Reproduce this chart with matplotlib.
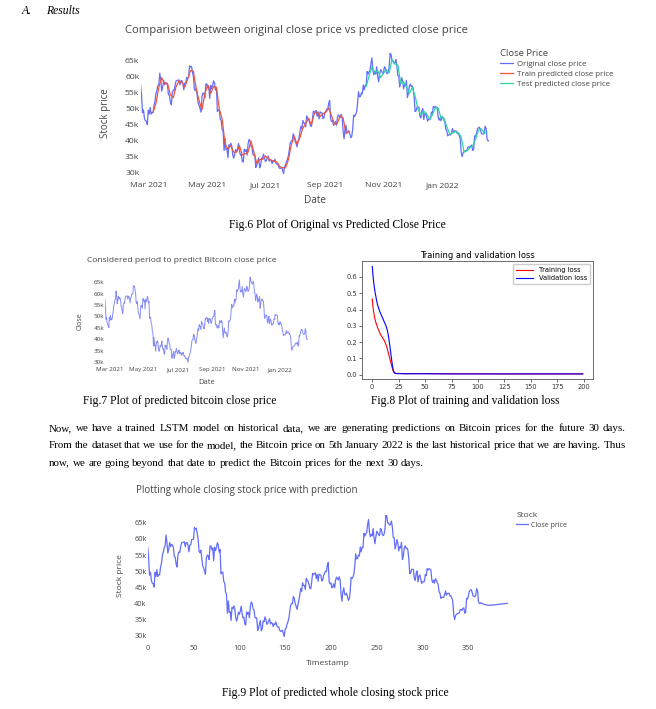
import numpy as np
import pandas as pd
import matplotlib
matplotlib.use("Agg")
import matplotlib.pyplot as plt
import matplotlib.dates as mdates
from matplotlib.ticker import FuncFormatter

# daily close, in thousands of USD
feb21 = [57.5, 54.2, 48.8, 49.7, 47.1, 46.3, 46.2, 45.1]
mar21 = [49.6, 48.4, 50.5, 48.4, 48.9, 48.9, 51.2, 52.4, 54.9, 55.9, 57.3, 57.8, 61.2, 59.0, 55.6, 56.9,
         58.9, 57.6, 58.3, 58.1, 57.4, 54.5, 54.3, 52.3, 51.3, 55.0, 55.9, 55.8, 57.6, 58.8, 58.9]
apr21 = [59.0, 59.1, 57.6, 58.8, 58.9, 58.0, 56.0, 58.1, 58.2, 59.8, 59.8, 59.9, 63.5, 63.1, 63.3, 61.6,
         60.1, 56.2, 55.7, 56.5, 54.0, 51.7, 51.1, 50.1, 49.0, 54.0, 55.0, 54.8, 53.6, 57.8]
may21 = [57.8, 56.6, 57.2, 53.3, 57.4, 56.4, 57.3, 58.8, 58.2, 55.9, 56.7, 49.2, 49.7, 49.7, 46.8, 46.4,
         43.5, 42.9, 37.0, 40.8, 37.3, 37.5, 34.8, 38.8, 38.4, 39.3, 38.4, 35.7, 34.6, 35.7, 37.3]
jun21 = [36.7, 37.6, 39.2, 36.9, 35.6, 35.8, 33.6, 33.4, 37.4, 36.7, 37.3, 35.6, 39.1, 40.5, 40.1, 38.3,
         38.1, 35.8, 35.5, 35.6, 31.7, 32.5, 33.7, 34.7, 31.6, 32.2, 34.6, 34.4, 35.9, 35.0]
jul21 = [33.6, 33.9, 34.7, 35.3, 33.7, 34.2, 33.9, 32.9, 33.8, 33.5, 34.3, 33.1, 32.7, 32.8, 31.8, 31.4,
         31.5, 31.8, 30.8, 29.8, 32.1, 32.3, 33.6, 34.3, 35.4, 37.3, 39.4, 40.0, 40.0, 42.2, 41.6]
aug21 = [39.9, 39.2, 38.2, 39.7, 40.9, 42.8, 44.6, 43.8, 46.4, 45.6, 45.6, 44.4, 47.8, 47.1, 47.0, 45.9,
         44.7, 44.6, 46.8, 49.3, 48.9, 49.3, 49.5, 47.7, 49.0, 46.9, 49.1, 48.9, 48.8, 47.0, 47.2]
sep21 = [48.8, 49.3, 50.0, 49.9, 51.8, 52.7, 46.8, 46.1, 46.4, 44.9, 45.2, 46.1, 44.9, 47.1, 48.2, 47.8,
         47.3, 48.3, 47.3, 43.0, 40.7, 43.6, 44.9, 42.8, 42.7, 43.2, 42.2, 41.0, 41.5, 43.8]
oct21 = [48.1, 47.7, 48.2, 49.1, 51.5, 55.4, 53.8, 53.9, 55.0, 54.7, 57.5, 56.0, 57.4, 57.3, 61.7, 60.9,
         61.6, 62.0, 64.3, 66.0, 62.2, 60.7, 61.4, 60.9, 63.2, 60.4, 58.5, 60.6, 62.3, 61.9, 61.3]
nov21 = [61.0, 63.2, 62.9, 61.4, 61.0, 61.5, 63.3, 67.5, 66.9, 64.9, 64.9, 64.2, 64.5, 65.5, 63.6, 60.4,
         60.3, 56.9, 58.1, 59.8, 58.7, 56.3, 57.6, 57.2, 58.9, 53.6, 54.8, 57.2, 57.8, 57.0]
dec21 = [57.2, 56.5, 53.6, 49.2, 49.4, 50.6, 50.6, 50.5, 47.7, 47.2, 49.4, 50.1, 46.7, 48.4, 48.9, 47.6,
         46.2, 46.8, 46.7, 46.9, 49.0, 48.6, 50.8, 50.4, 50.8, 50.6, 50.5, 47.5, 46.5, 47.2, 46.3]
jan22 = [47.7, 47.3, 46.5, 45.9, 43.6, 43.2, 41.6, 41.9, 42.0, 41.9, 42.7, 43.9, 42.6, 43.1, 43.2, 43.1,
         42.3, 42.4, 41.7, 40.7, 36.5, 35.1, 36.3, 36.7, 36.9, 37.0, 37.1, 38.0, 38.2, 37.9, 38.5]
feb22 = [38.7, 37.0, 37.3, 41.6, 41.4, 42.4, 43.8, 44.1, 44.3, 43.6, 42.4, 42.2, 42.1, 42.6, 44.6, 43.9,
         40.6, 40.0, 40.1]

# LSTM predictions on the train part (every 3rd day from day 13)
train_pred = [49.0, 51.8, 56.8, 59.8, 57.8, 58.0, 54.5, 53.5, 57.0,
              58.8, 58.3, 56.8, 59.3, 62.0, 61.8, 56.2, 52.5, 49.8, 54.8,
              57.5, 54.8, 57.0, 56.8, 50.0, 46.8, 39.0, 37.5, 38.5, 36.5,
              36.5, 38.5, 35.6, 36.0, 36.5, 40.0, 36.5, 33.0, 34.2, 34.2,
              35.3, 34.6, 34.0, 33.7, 33.4, 32.0, 31.6, 31.6, 34.2, 38.8,
              41.5, 39.0, 41.0, 44.0, 45.4, 47.1, 45.0, 48.6, 49.1, 47.6,
              48.5, 49.0, 50.3, 47.8, 45.3, 45.6, 47.8, 47.2, 42.3, 43.0]
# LSTM predictions on the test part (every 3rd day from day 235)
test_pred = [57.0, 60.2, 63.2, 61.5, 62.0, 59.8, 61.2, 62.3, 61.3, 65.5, 64.0, 63.8, 58.0, 58.5,
             57.0, 54.8, 56.8, 54.0, 50.0, 48.2, 49.3, 48.5, 46.8, 48.2, 50.2, 50.3, 47.2, 47.2,
             44.5, 42.2, 42.4, 43.0, 42.6, 41.3, 36.5, 36.9, 37.9, 38.5, 40.5, 43.3, 43.8, 42.4, 42.8]
# 30 day forecast after the last day
future_pred = [40.3, 40.0, 39.9, 39.8, 39.7, 39.6, 39.6, 39.5, 39.5, 39.5, 39.5, 39.5, 39.5, 39.6, 39.6,
               39.6, 39.7, 39.7, 39.7, 39.8, 39.8, 39.8, 39.9, 39.9, 39.9, 40.0, 40.0, 40.0, 40.1, 40.1]

# training history
loss_epochs = [0, 1, 2, 3, 4, 5, 6, 7, 8, 9, 10, 11, 12, 13, 14, 15, 16, 17, 18, 19, 20, 21, 22, 23, 24, 25,
               30, 40, 50, 75, 100, 125, 150, 175, 199]
train_loss = [0.465, 0.40, 0.36, 0.33, 0.31, 0.29, 0.275, 0.26, 0.245, 0.235, 0.225, 0.215, 0.20, 0.185,
              0.165, 0.14, 0.115, 0.09, 0.065, 0.04, 0.02, 0.012, 0.009, 0.008, 0.008, 0.008,
              0.007, 0.007, 0.007, 0.006, 0.006, 0.005, 0.005, 0.005, 0.005]
val_loss = [0.665, 0.59, 0.535, 0.495, 0.46, 0.43, 0.41, 0.39, 0.375, 0.36, 0.345, 0.33, 0.315, 0.30,
            0.28, 0.25, 0.21, 0.16, 0.11, 0.06, 0.025, 0.011, 0.008, 0.007, 0.007, 0.007,
            0.006, 0.006, 0.006, 0.005, 0.005, 0.005, 0.005, 0.005, 0.005]

close = np.array(feb21 + mar21 + apr21 + may21 + jun21 + jul21 + aug21 + sep21 + oct21 + nov21
                 + dec21 + jan22 + feb22)
dates = pd.date_range("2021-02-21", periods=len(close), freq="D")
t = np.arange(len(close))
train_idx = np.arange(13, 13 + 3 * len(train_pred), 3)
test_idx = np.arange(235, 235 + 3 * len(test_pred), 3)
fut_t = np.arange(len(close), len(close) + len(future_pred))

W, H = 656, 709
fig = plt.figure(figsize=(W / 100, H / 100), dpi=100)
SANS = "Open Sans"
SERIF = "Liberation Serif"
TXT = "#444444"
BLUE, RED, GREEN = "#636efa", "#ef553b", "#2fd6a0"
CAP = 8.4
PARA = 7.9


def box(x0, y0, x1, y1):
    return [x0 / W, 1 - y1 / H, (x1 - x0) / W, (y1 - y0) / H]


def ftext(x, y, s, **kw):
    return fig.text(x / W, 1 - y / H, s, **kw)


kfmt = FuncFormatter(lambda v, p: f"{v:g}k")


def plotly_axes(ax, size, xpad, ypad):
    for s in ax.spines.values():
        s.set_visible(False)
    ax.tick_params(length=0, labelsize=size, colors=TXT)
    ax.tick_params(axis="x", pad=xpad)
    ax.tick_params(axis="y", pad=ypad)
    ax.set_yticks(range(30, 70, 5))
    ax.yaxis.set_major_formatter(kfmt)
    ax.set_ylim(close.min(), close.max())
    for lab in ax.get_xticklabels() + ax.get_yticklabels():
        lab.set_family(SANS)


def plotly_legend(ax, title, labels, anchor, tsize, size, spacing):
    leg = ax.legend(labels, title=title, loc="upper left",
                    bbox_to_anchor=(anchor[0] / W, 1 - anchor[1] / H),
                    bbox_transform=fig.transFigure, frameon=False, title_fontsize=tsize,
                    borderpad=0, handlelength=1.7, handletextpad=0.45, labelspacing=spacing,
                    alignment="left", prop={"family": SANS, "size": size})
    leg.get_title().set_color(TXT)
    leg.get_title().set_family(SANS)
    for tx in leg.get_texts():
        tx.set_color(TXT)
    return leg


# header
ftext(22, 11, "A.", family=SERIF, style="italic", fontsize=CAP, va="center")
ftext(46, 11, "Results", family=SERIF, style="italic", fontsize=CAP, va="center")

# Fig.6
ax6 = fig.add_axes(box(140.6, 53, 489, 173.6))
ax6.plot(dates, close, color=BLUE, lw=0.9)
ax6.plot(dates[train_idx], train_pred, color=RED, lw=0.9)
ax6.plot(dates[test_idx], test_pred, color=GREEN, lw=0.9)
ax6.set_xlim(dates[0], dates[-1])
ax6.xaxis.set_major_locator(mdates.MonthLocator(bymonth=[1, 3, 5, 7, 9, 11]))
ax6.xaxis.set_major_formatter(mdates.DateFormatter("%b %Y"))
plotly_axes(ax6, 6.1, 6.0, 1.0)
ax6.set_xlabel("Date", fontsize=7.2, color=TXT, family=SANS)
ax6.xaxis.set_label_coords(0.5, -0.175)
ax6.set_ylabel("Stock price", fontsize=7.0, color=TXT, family=SANS)
ax6.yaxis.set_label_coords(-0.085, 0.5)
ftext(125, 30, "Comparision between original close price vs predicted close price",
      fontsize=8.1, color=TXT, family=SANS, va="center")
plotly_legend(ax6, "Close Price",
              ["Original close price", "Train predicted close price", "Test predicted close price"],
              (496, 45), 6.8, 5.7, 0.3)
ftext(337, 225, "Fig.6 Plot of Original vs Predicted Close Price", family=SERIF, fontsize=CAP,
      ha="center", va="center")

# Fig.7
ax7 = fig.add_axes(box(104.9, 276.6, 307.5, 362.5))
ax7.plot(dates, close, color="#858cf7", lw=0.7)
ax7.set_xlim(dates[0], dates[-1])
ax7.xaxis.set_major_locator(mdates.MonthLocator(bymonth=[1, 3, 5, 7, 9, 11]))
ax7.xaxis.set_major_formatter(mdates.DateFormatter("%b %Y"))
plotly_axes(ax7, 4.5, 3.4, 0.6)
ax7.set_xlabel("Date", fontsize=5.4, color=TXT, family=SANS)
ax7.xaxis.set_label_coords(0.5, -0.19)
ax7.set_ylabel("Close", fontsize=5.0, color=TXT, family=SANS)
ax7.yaxis.set_label_coords(-0.103, 0.48)
ftext(87, 260, "Considered period to predict Bitcoin close price", fontsize=6.1, color=TXT,
      family=SANS, va="center")
ftext(180, 401, "Fig.7 Plot of predicted bitcoin close price", family=SERIF, fontsize=CAP,
      ha="center", va="center")

# Fig.8
ax8 = fig.add_axes(box(361.7, 261, 593.3, 379.3))
ax8.plot(loss_epochs, train_loss, color="red", lw=0.8, label="Training loss")
ax8.plot(loss_epochs, val_loss, color="blue", lw=0.8, label="Validation loss")
ax8.set_xticks(range(0, 201, 25))
ax8.set_yticks(np.arange(0, 0.61, 0.1))
ax8.tick_params(labelsize=4.8, length=2, width=0.5, pad=1.5, colors="#333333")
for s in ax8.spines.values():
    s.set_linewidth(0.6)
    s.set_color("#555555")
ax8.set_title("Training and validation loss", fontsize=6, pad=2.5)
ax8.legend(loc="upper right", fontsize=4.8, handlelength=2.6, borderpad=0.45, labelspacing=0.3,
           framealpha=1, edgecolor="#cccccc", fancybox=True)
ftext(465, 401, "Fig.8 Plot of training and validation loss", family=SERIF, fontsize=CAP,
      ha="center", va="center")

# paragraph, justified
para = ["Now, we have a trained LSTM model on historical data, we are generating predictions on Bitcoin prices for the future 30 days.",
        "From the dataset that we use for the model, the Bitcoin price on 5th January 2022 is the last historical price that we are having. Thus",
        "now, we are going beyond that date to predict the Bitcoin prices for the next 30 days."]
para_y = [429, 446, 463]
rend = fig.canvas.get_renderer()
for k, (line, y) in enumerate(zip(para, para_y)):
    words = line.split()
    widths = []
    for w in words:
        tmp = fig.text(0, 0, w, family=SERIF, fontsize=PARA)
        widths.append(tmp.get_window_extent(rend).width)
        tmp.remove()
    if k == len(para) - 1:
        gap = PARA * 100 / 72 * 0.25
    else:
        gap = (626 - 49 - sum(widths)) / (len(words) - 1)
    x = 49
    for w, wd in zip(words, widths):
        ftext(x, y, w, family=SERIF, fontsize=PARA, va="center")
        x += wd + gap

# Fig.9
ax9 = fig.add_axes(box(147.7, 514.6, 507.8, 636.6))
ax9.plot(np.concatenate([t, fut_t]), np.concatenate([close, future_pred]), color=BLUE, lw=0.9)
ax9.set_xlim(0, fut_t[-1])
ax9.set_xticks(range(0, 351, 50))
plotly_axes(ax9, 5.3, 6.0, 0.8)
ax9.set_xlabel("Timestamp", fontsize=6, color=TXT, family=SANS)
ax9.xaxis.set_label_coords(0.5, -0.195)
ax9.set_ylabel("Stock price", fontsize=6, color=TXT, family=SANS)
ax9.yaxis.set_label_coords(-0.065, 0.5)
ftext(136, 491, "Plotting whole closing stock price with prediction", fontsize=7, color=TXT,
      family=SANS, va="center")
plotly_legend(ax9, "Stock", ["Close price"], (513, 509), 6, 5, 0.3)
ftext(335, 693, "Fig.9 Plot of predicted whole closing stock price", family=SERIF, fontsize=CAP,
      ha="center", va="center")

fig.savefig("out.png", dpi=100)
